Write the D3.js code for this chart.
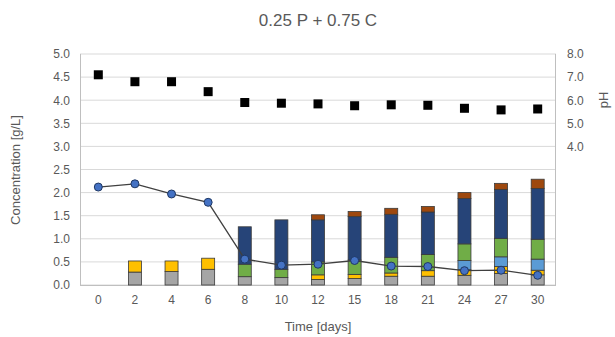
<!DOCTYPE html>
<html><head><meta charset="utf-8">
<script src="https://cdn.jsdelivr.net/npm/d3@7"></script>
<style>body{margin:0;background:#fff}svg{font-family:"Liberation Sans",Arial,sans-serif}</style>
</head><body><svg id="c" width="615" height="337"></svg>
<script>
const days = ["0","2","4","6","8","10","12","15","18","21","24","27","30"];
const gray      = [0,0.28,0.29,0.34,0.18,0.16,0.12,0.14,0.19,0.19,0.21,0.25,0.22];
const yellow    = [0,0.24,0.23,0.24,0,0,0.10,0.09,0.07,0.12,0.12,0.15,0.10];
const lightBlue = [0,0,0,0,0,0,0,0,0,0,0.20,0.21,0.24];
const green     = [0,0,0,0,0.27,0.18,0.28,0.31,0.34,0.35,0.36,0.40,0.43];
const darkBlue  = [0,0,0,0,0.81,1.07,0.91,0.94,0.93,0.92,0.98,1.06,1.10];
const orange    = [0,0,0,0,0,0,0.11,0.11,0.13,0.12,0.13,0.13,0.20];
const lineVals  = [2.12,2.19,1.97,1.79,0.56,0.43,0.45,0.53,0.41,0.40,0.31,0.32,0.21];
const pH        = [7.1,6.8,6.8,6.37,5.9,5.87,5.84,5.76,5.8,5.78,5.65,5.58,5.62];
const leftTicks = [0,0.5,1,1.5,2,2.5,3,3.5,4,4.5,5];
const rightTicks = [4,5,6,7,8];

const seriesNames = ["gray","yellow","lightBlue","green","darkBlue","orange"];
const seriesData = {gray,yellow,lightBlue,green,darkBlue,orange};
const colors = {gray:"#a5a5a5",yellow:"#ffc000",lightBlue:"#5b9bd5",green:"#70ad47",darkBlue:"#264478",orange:"#9e480e"};

const svg = d3.select("#c");
const L=80,R=556,T=54,B=285;
const x = d3.scaleBand().domain(days).range([L,R]);
const y = d3.scaleLinear().domain([0,5]).range([B,T]);
const y2 = d3.scaleLinear().domain([-2,8]).range([B,T]);
const txt="#595959";

// gridlines
svg.append("g").selectAll("line").data(leftTicks).join("line")
  .attr("x1",L).attr("x2",R).attr("y1",d=>y(d)).attr("y2",d=>y(d))
  .attr("stroke","#d9d9d9").attr("stroke-width",1);
// left/right lines
svg.append("line").attr("x1",L+0.5).attr("x2",L+0.5).attr("y1",T).attr("y2",B).attr("stroke","#bfbfbf");
svg.append("line").attr("x1",R-0.5).attr("x2",R-0.5).attr("y1",T).attr("y2",B).attr("stroke","#bfbfbf");
svg.append("line").attr("x1",L).attr("x2",R).attr("y1",B+0.5).attr("y2",B+0.5).attr("stroke","#bfbfbf");

// axes labels
const ly = d3.axisLeft(y).tickValues(leftTicks).tickFormat(d3.format(".1f")).tickSize(0).tickPadding(10);
const gL = svg.append("g").attr("transform",`translate(${L},0)`).call(ly);
gL.select(".domain").remove();
gL.selectAll("text").attr("fill",txt).attr("font-size",12);
const ry = d3.axisRight(y2).tickValues(rightTicks).tickFormat(d3.format(".1f")).tickSize(0).tickPadding(11);
const gR = svg.append("g").attr("transform",`translate(${R},0)`).call(ry);
gR.select(".domain").remove();
gR.selectAll("text").attr("fill",txt).attr("font-size",12);
const bx = d3.axisBottom(x).tickSize(0).tickPadding(10);
const gB = svg.append("g").attr("transform",`translate(0,${B})`).call(bx);
gB.select(".domain").remove();
gB.selectAll("text").attr("fill",txt).attr("font-size",12);

// stacked bars
const rows = days.map((d,i)=>{const o={day:d};seriesNames.forEach(s=>o[s]=seriesData[s][i]);return o;});
const stack = d3.stack().keys(seriesNames)(rows);
const bw = 13;
svg.append("g").selectAll("g").data(stack).join("g").attr("fill",s=>colors[s.key])
  .selectAll("rect").data(s=>s.filter(p=>p[1]-p[0]>0)).join("rect")
  .attr("x",p=>x(p.data.day)+x.bandwidth()/2-bw/2).attr("width",bw)
  .attr("y",p=>y(p[1])).attr("height",p=>y(p[0])-y(p[1]))
  .attr("stroke","#3a3a3a").attr("stroke-width",0.8);

// line
const cx = d=>x(d)+x.bandwidth()/2;
svg.append("path").datum(lineVals).attr("fill","none").attr("stroke","#404040").attr("stroke-width",1.3)
  .attr("d",d3.line().x((v,i)=>cx(days[i])).y(v=>y(v)));
svg.append("g").selectAll("circle").data(lineVals).join("circle")
  .attr("cx",(v,i)=>cx(days[i])).attr("cy",v=>y(v)).attr("r",4)
  .attr("fill","#4472c4").attr("stroke","#1f3864").attr("stroke-width",1);

// pH squares
svg.append("g").selectAll("rect").data(pH).join("rect")
  .attr("x",(v,i)=>cx(days[i])-4.5).attr("y",v=>y2(v)-4.5).attr("width",9).attr("height",9).attr("fill","#000");

// titles
svg.append("text").attr("x",318).attr("y",26).attr("text-anchor","middle").attr("font-size",17).attr("fill",txt).text("0.25 P + 0.75 C");
svg.append("text").attr("x",318).attr("y",331).attr("text-anchor","middle").attr("font-size",13).attr("fill",txt).text("Time [days]");
svg.append("text").attr("transform","translate(20,170) rotate(-90)").attr("text-anchor","middle").attr("font-size",13).attr("fill",txt).text("Concentration [g/L]");
svg.append("text").attr("transform","translate(608,100) rotate(-90)").attr("text-anchor","middle").attr("font-size",13).attr("fill",txt).text("pH");
</script></body></html>
